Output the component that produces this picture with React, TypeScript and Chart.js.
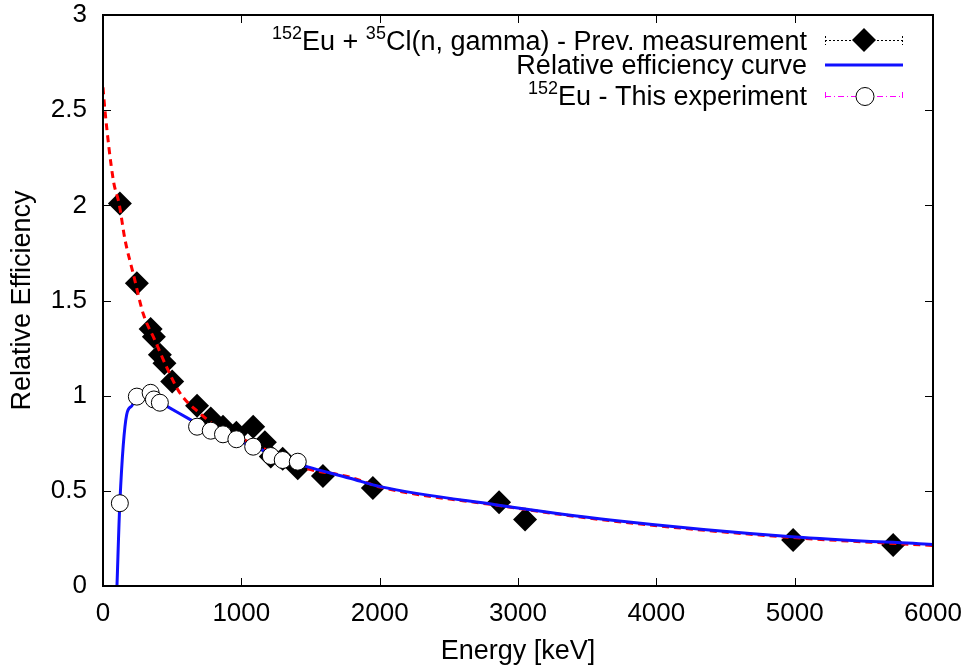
import React, { useEffect, useRef } from "react";
import { Chart, registerables } from "chart.js";

Chart.register(...registerables);

// Previous measurement (152Eu + 35Cl(n,gamma))
const prevEnergy = [121.8, 244.7, 344.3, 367.8, 411.1, 444.0, 500, 680, 778.9, 867.4, 964.1, 1085.8, 1170, 1212.9, 1299.1, 1408.0, 1590, 1951, 2863, 3051, 4989, 5712];
const prevEff = [2.01, 1.59, 1.35, 1.31, 1.215, 1.17, 1.075, 0.947, 0.88, 0.837, 0.805, 0.837, 0.755, 0.68, 0.668, 0.618, 0.578, 0.515, 0.44, 0.35, 0.242, 0.215];

// This experiment (152Eu)
const thisEnergy = [121.8, 244.7, 344.3, 367.8, 411.1, 680, 778.9, 867.4, 964.1, 1085.8, 1212.9, 1299.1, 1408.0];
const thisEff = [0.435, 0.995, 1.015, 0.98, 0.963, 0.837, 0.816, 0.797, 0.771, 0.732, 0.683, 0.662, 0.653];

// Relative efficiency curve (blue)
const curveEnergy = [101, 122, 171, 207, 245, 300, 344, 411, 460, 641, 779, 964, 1086, 1299, 1473, 1786, 2003, 2847, 3666, 4979, 6000];
const curveEff = [0, 0.44, 0.9, 0.945, 0.99, 1.0, 1.0, 0.965, 0.945, 0.87, 0.815, 0.765, 0.735, 0.665, 0.627, 0.566, 0.522, 0.426, 0.347, 0.259, 0.218];

// Fit through previous measurement (red dashed)
const fitEnergy = [0, 14, 75, 116, 159, 219, 291, 376, 460, 557, 701, 822, 1135, 1424, 1786, 2003, 2847, 3666, 4979, 6000];
const fitEff = [2.62, 2.5, 2.13, 2.01, 1.82, 1.64, 1.43, 1.29, 1.15, 1.013, 0.907, 0.837, 0.732, 0.627, 0.572, 0.52, 0.424, 0.343, 0.255, 0.213];

const xTicks = [0, 1000, 2000, 3000, 4000, 5000, 6000];
const yTicks = [0, 0.5, 1, 1.5, 2, 2.5, 3];
const xTickLabels = ["0", "1000", "2000", "3000", "4000", "5000", "6000"];
const yTickLabels = ["0", "0.5", "1", "1.5", "2", "2.5", "3"];

const xTitle = "Energy [keV]";
const yTitle = "Relative Efficiency";

type Seg = { t: string; sup?: boolean };
const legendPrev: Seg[] = [{ t: "152", sup: true }, { t: "Eu + " }, { t: "35", sup: true }, { t: "Cl(n, gamma) - Prev. measurement" }];
const legendCurve: Seg[] = [{ t: "Relative efficiency curve" }];
const legendThis: Seg[] = [{ t: "152", sup: true }, { t: "Eu - This experiment" }];

const FONT = "'Liberation Sans', Arial, Helvetica, sans-serif";

function toPts(xs: number[], ys: number[]) {
  return xs.map((x, i) => ({ x, y: ys[i] }));
}

function drawRich(ctx: CanvasRenderingContext2D, segs: Seg[], right: number, base: number) {
  const mainF = `27px ${FONT}`;
  const supF = `18px ${FONT}`;
  let total = 0;
  const widths = segs.map((s) => {
    ctx.font = s.sup ? supF : mainF;
    const w = ctx.measureText(s.t).width;
    total += w;
    return w;
  });
  let x = right - total;
  ctx.textAlign = "left";
  ctx.textBaseline = "alphabetic";
  ctx.fillStyle = "#000";
  segs.forEach((s, i) => {
    ctx.font = s.sup ? supF : mainF;
    ctx.fillText(s.t, x, s.sup ? base - 11 : base);
    x += widths[i];
  });
}

const framePlugin = {
  id: "framePlugin",
  afterDraw(chart: any) {
    const ctx: CanvasRenderingContext2D = chart.ctx;
    const { left, right, top, bottom } = chart.chartArea;
    const xs = chart.scales.x;
    const ys = chart.scales.y;
    ctx.save();
    ctx.strokeStyle = "#000";
    ctx.lineWidth = 1;
    const tl = 8;
    ctx.beginPath();
    xTicks.forEach((v) => {
      const px = Math.round(xs.getPixelForValue(v)) + 0.5;
      ctx.moveTo(px, bottom);
      ctx.lineTo(px, bottom - tl);
      ctx.moveTo(px, top);
      ctx.lineTo(px, top + tl);
    });
    yTicks.forEach((v) => {
      const py = Math.round(ys.getPixelForValue(v)) + 0.5;
      ctx.moveTo(left, py);
      ctx.lineTo(left + tl, py);
      ctx.moveTo(right, py);
      ctx.lineTo(right - tl, py);
    });
    ctx.stroke();
    ctx.lineWidth = 2;
    ctx.strokeRect(left, top, right - left, bottom - top);

    // legend
    drawRich(ctx, legendPrev, 807, 50);
    drawRich(ctx, legendCurve, 807, 74);
    drawRich(ctx, legendThis, 807, 105);

    const lx0 = 825, lx1 = 903;
    // row 1: dotted black with diamond
    ctx.lineWidth = 1;
    ctx.strokeStyle = "#000";
    ctx.setLineDash([2, 2]);
    ctx.beginPath();
    ctx.moveTo(lx0, 40.5);
    ctx.lineTo(lx1, 40.5);
    ctx.moveTo(lx0 + 0.5, 36);
    ctx.lineTo(lx0 + 0.5, 45);
    ctx.moveTo(lx1 - 0.5, 36);
    ctx.lineTo(lx1 - 0.5, 45);
    ctx.stroke();
    ctx.setLineDash([]);
    ctx.fillStyle = "#000";
    ctx.beginPath();
    const dcx = 864, dcy = 40, dr = 12;
    ctx.moveTo(dcx - dr, dcy);
    ctx.lineTo(dcx, dcy - dr);
    ctx.lineTo(dcx + dr, dcy);
    ctx.lineTo(dcx, dcy + dr);
    ctx.closePath();
    ctx.fill();
    // row 2: blue solid
    ctx.strokeStyle = "#1010ff";
    ctx.lineWidth = 3;
    ctx.beginPath();
    ctx.moveTo(lx0, 65);
    ctx.lineTo(lx1, 65);
    ctx.stroke();
    // row 3: magenta dash-dot with circle
    ctx.strokeStyle = "#ff00ff";
    ctx.lineWidth = 1;
    ctx.setLineDash([6, 3, 1, 3]);
    ctx.beginPath();
    ctx.moveTo(lx0, 96.5);
    ctx.lineTo(lx1, 96.5);
    ctx.moveTo(lx0 + 0.5, 92);
    ctx.lineTo(lx0 + 0.5, 101);
    ctx.moveTo(lx1 - 0.5, 92);
    ctx.lineTo(lx1 - 0.5, 101);
    ctx.stroke();
    ctx.setLineDash([]);
    ctx.fillStyle = "#fff";
    ctx.strokeStyle = "#000";
    ctx.beginPath();
    ctx.arc(865, 96.5, 9, 0, Math.PI * 2);
    ctx.fill();
    ctx.stroke();
    ctx.restore();
  },
};

export default function App() {
  const ref = useRef<HTMLCanvasElement | null>(null);
  useEffect(() => {
    if (!ref.current) return;
    const chart = new Chart(ref.current, {
      type: "scatter",
      data: {
        datasets: [
          {
            label: "prev",
            data: toPts(prevEnergy, prevEff),
            showLine: false,
            pointStyle: "rectRot",
            pointRadius: 12,
            pointBackgroundColor: "#000",
            pointBorderColor: "#000",
            pointBorderWidth: 0,
            order: 4,
          },
          {
            label: "fit",
            data: toPts(fitEnergy, fitEff),
            showLine: true,
            borderColor: "#ff0000",
            borderWidth: 3,
            borderDash: [7, 5],
            pointRadius: 0,
            cubicInterpolationMode: "monotone",
            order: 3,
          },
          {
            label: "curve",
            data: toPts(curveEnergy, curveEff),
            showLine: true,
            borderColor: "#1010ff",
            borderWidth: 3,
            pointRadius: 0,
            cubicInterpolationMode: "monotone",
            order: 2,
          },
          {
            label: "this",
            data: toPts(thisEnergy, thisEff),
            showLine: false,
            pointStyle: "circle",
            pointRadius: 8.5,
            pointBackgroundColor: "#fff",
            pointBorderColor: "#000",
            pointBorderWidth: 1,
            order: 1,
          },
        ],
      },
      options: {
        responsive: false,
        animation: false,
        devicePixelRatio: 1,
        layout: { padding: { top: 15, right: 38, left: 0, bottom: 0 } },
        plugins: { legend: { display: false }, tooltip: { enabled: false } },
        scales: {
          x: {
            type: "linear",
            min: 0,
            max: 6000,
            afterFit: (s: any) => {
              s.height = 86;
              s.paddingLeft = 0;
              s.paddingRight = 0;
            },
            afterBuildTicks: (s: any) => {
              s.ticks = xTicks.map((v) => ({ value: v }));
            },
            grid: { display: false, drawTicks: false },
            border: { display: false },
            ticks: {
              padding: 12,
              color: "#000",
              font: { family: FONT, size: 26 },
              callback: (v: any) => xTickLabels[xTicks.indexOf(Number(v))] ?? "",
              maxRotation: 0,
              autoSkip: false,
            },
            title: {
              display: true,
              text: xTitle,
              color: "#000",
              font: { family: FONT, size: 27 },
              padding: { top: 0, bottom: 4 },
            },
          },
          y: {
            type: "linear",
            min: 0,
            max: 3,
            afterFit: (s: any) => {
              s.width = 103;
              s.paddingTop = 0;
              s.paddingBottom = 0;
            },
            afterBuildTicks: (s: any) => {
              s.ticks = yTicks.map((v) => ({ value: v }));
            },
            grid: { display: false, drawTicks: false },
            border: { display: false },
            ticks: {
              padding: 16,
              color: "#000",
              font: { family: FONT, size: 26 },
              callback: (v: any) => yTickLabels[yTicks.indexOf(Number(v))] ?? "",
              autoSkip: false,
            },
            title: {
              display: true,
              text: yTitle,
              color: "#000",
              font: { family: FONT, size: 27 },
              padding: { top: 6, bottom: 0 },
            },
          },
        },
      },
      plugins: [framePlugin],
    });
    return () => chart.destroy();
  }, []);
  return (
    <div style={{ position: "fixed", left: 0, top: 0, width: 971, height: 672, background: "#fff" }}>
      <canvas ref={ref} width={971} height={672} style={{ width: 971, height: 672, display: "block" }} />
    </div>
  );
}
